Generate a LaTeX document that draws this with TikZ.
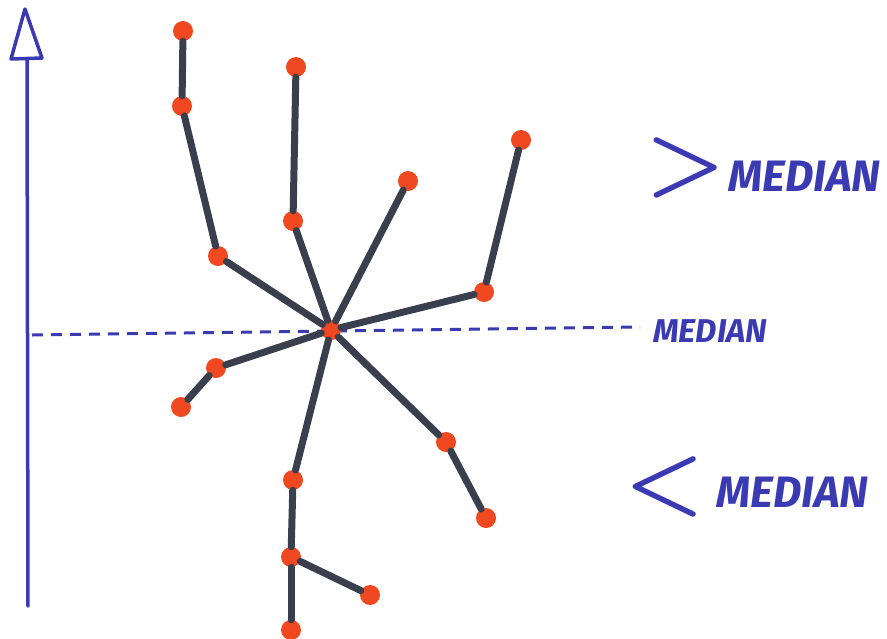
\documentclass[tikz,border=0pt]{standalone}
\usepackage{fontspec}
\setsansfont{Fira Sans}
\definecolor{ink}{RGB}{58,58,178}
\definecolor{stem}{RGB}{58,63,78}
\definecolor{dot}{RGB}{240,72,32}
\begin{document}
\begin{tikzpicture}[x=1pt,y=-1pt,
  pt/.style={circle,fill=dot,inner sep=0pt,minimum size=20pt},
  link/.style={draw=stem,line width=7pt,line cap=round},
  lbl/.style={text=ink,inner sep=0pt},
  axisline/.style={draw=ink,line width=3.5pt,line cap=round,line join=round}]
\useasboundingbox (0,0) rectangle (887,638);
% axis
\coordinate (axb) at (28,606);
\coordinate (axt) at (27,60);
\coordinate (tipl) at (11,59);
\coordinate (tipr) at (42,58);
\coordinate (apex) at (25,9);
\draw[axisline] (axb) -- (axt);
\draw[axisline] (tipl) -- (tipr) -- (apex) -- cycle;
% median dashed line
\coordinate (ml) at (32,335);
\coordinate (mr) at (640,327);
\draw[draw=ink,line width=3pt,dash pattern=on 11pt off 8pt] (ml) -- (mr);
% nodes
\node[pt] (c) at (331,330) {};
\node[pt] (a1) at (218,256) {};
\node[pt] (a2) at (182,106) {};
\node[pt] (a3) at (183,31) {};
\node[pt] (b1) at (293,221) {};
\node[pt] (b2) at (296,67) {};
\node[pt] (d1) at (408,181) {};
\node[pt] (e1) at (484,292) {};
\node[pt] (e2) at (521,140) {};
\node[pt] (f1) at (216,368) {};
\node[pt] (f2) at (181,407) {};
\node[pt] (g1) at (446,442) {};
\node[pt] (g2) at (486,518) {};
\node[pt] (h1) at (293,480) {};
\node[pt] (h2) at (291,557) {};
\node[pt] (h3) at (370,595) {};
\node[pt] (h4) at (291,630) {};
% links
\draw[link] (c) -- (a1);
\draw[link] (a1) -- (a2);
\draw[link] (a2) -- (a3);
\draw[link] (c) -- (b1);
\draw[link] (b1) -- (b2);
\draw[link] (c) -- (d1);
\draw[link] (c) -- (e1);
\draw[link] (e1) -- (e2);
\draw[link] (c) -- (f1);
\draw[link] (f1) -- (f2);
\draw[link] (c) -- (g1);
\draw[link] (g1) -- (g2);
\draw[link] (c) -- (h1);
\draw[link] (h1) -- (h2);
\draw[link] (h2) -- (h3);
\draw[link] (h2) -- (h4);
% labels
\node[lbl,font=\sffamily\fontsize{33}{33}\selectfont\bfseries\itshape,anchor=west] (mlbl) at (653,331) {MEDIAN};
\node[lbl,anchor=center] (gt) at (686,168) {\scalebox{9}{\boldmath$>$}};
\node[lbl,font=\sffamily\fontsize{44}{44}\selectfont\bfseries\itshape,anchor=west] (gtl) at (728,176) {MEDIAN};
\node[lbl,anchor=center] (lt) at (665,487) {\scalebox{9}{\boldmath$<$}};
\node[lbl,font=\sffamily\fontsize{44}{44}\selectfont\bfseries\itshape,anchor=west] (ltl) at (716,492) {MEDIAN};
\end{tikzpicture}
\end{document}
